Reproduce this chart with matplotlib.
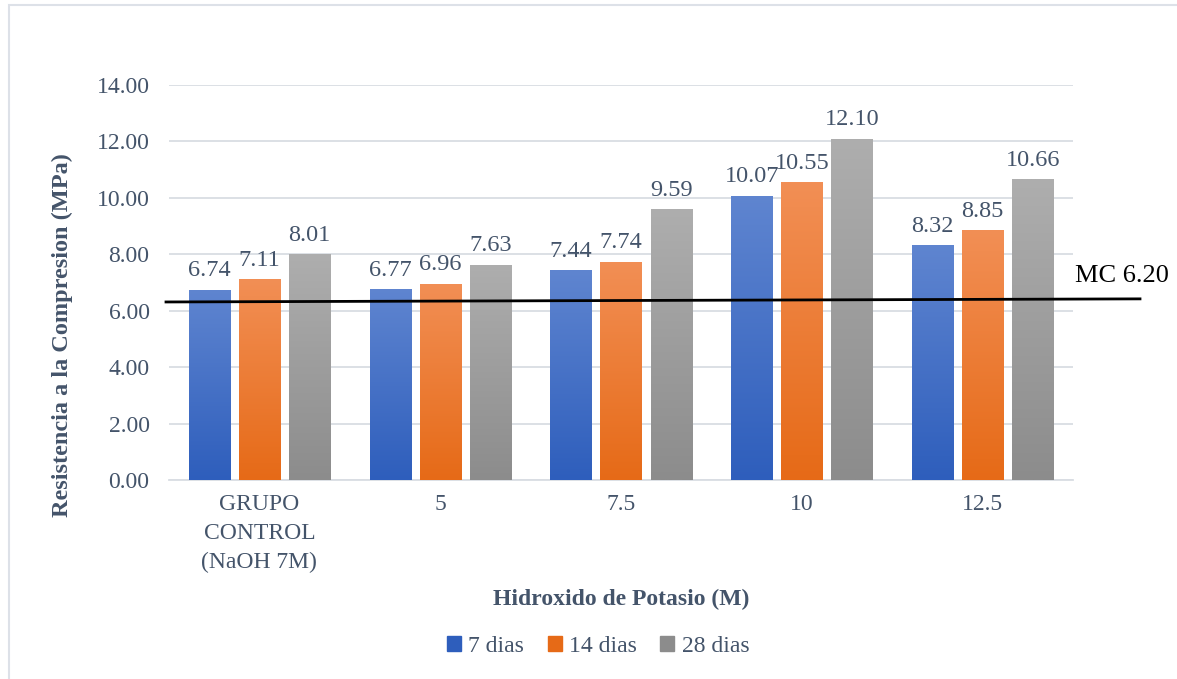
import numpy as np
import matplotlib
matplotlib.use("Agg")
import matplotlib.pyplot as plt
from matplotlib.colors import LinearSegmentedColormap
from matplotlib.lines import Line2D
from matplotlib.patches import Rectangle

# ---- data ----
categories = ["GRUPO\nCONTROL\n(NaOH 7M)", "5", "7.5", "10", "12.5"]
series_names = ["7 dias", "14 dias", "28 dias"]
dias_7 = [6.74, 6.77, 7.44, 10.07, 8.32]
dias_14 = [7.11, 6.96, 7.74, 10.55, 8.85]
dias_28 = [8.01, 7.63, 9.59, 12.10, 10.66]
mc_value = 6.20
mc_line_y = [6.31, 6.42]   # reference line as drawn (left end, right end)
y_ticks = [0, 2, 4, 6, 8, 10, 12, 14]

series = [dias_7, dias_14, dias_28]
# gradient colours (top, bottom)
grads = [("#5F85D0", "#2E5EBC"), ("#F28F55", "#E66A17"), ("#AEAEAE", "#8C8C8C")]

plt.rcParams["font.family"] = ["Liberation Serif", "DejaVu Serif"]
text_col = "#44546A"
fs = 17

fig = plt.figure(figsize=(11.77, 6.79), dpi=100)
W, H = 1177, 679
ax = fig.add_axes([169 / W, 1 - 480 / H, (1073 - 169) / W, (480 - 85) / H])

x = np.arange(len(categories))
bw = 0.227
offs = [-0.277, 0.0, 0.277]

for si, vals in enumerate(series):
    top, bot = grads[si]
    cmap = LinearSegmentedColormap.from_list(f"g{si}", [bot, top])
    bars = ax.bar(x + offs[si], vals, width=bw, color=top, zorder=2, linewidth=0)
    for b, v in zip(bars, vals):
        x0 = b.get_x()
        grad = np.linspace(0, 1, 256).reshape(-1, 1)
        im = ax.imshow(grad, cmap=cmap, origin="lower", aspect="auto",
                       extent=[x0, x0 + bw, 0, v], zorder=3,
                       interpolation="bilinear")
        im.set_clip_path(b)
        ax.text(x0 + bw / 2, v + 0.3, f"{v:.2f}", ha="center", va="bottom",
                fontsize=fs + 0.5, color=text_col, zorder=5)

ax.set_xlim(-0.5, len(categories) - 0.5)
ax.set_ylim(0, 14)
ax.set_yticks(y_ticks)
ax.set_yticklabels([f"{t:.2f}" for t in y_ticks], fontsize=fs, color=text_col)
ax.set_xticks(x)
ax.set_xticklabels(categories, fontsize=fs, color=text_col, linespacing=1.5)
ax.tick_params(axis="both", length=0)
ax.tick_params(axis="y", pad=14)
ax.tick_params(axis="x", pad=10)
ax.grid(axis="y", color="#D9DDE3", linewidth=1.3, zorder=0)
ax.set_axisbelow(True)
for s in ["top", "right", "left"]:
    ax.spines[s].set_visible(False)
ax.spines["bottom"].set_color("#D9DDE3")
ax.spines["bottom"].set_linewidth(1.3)

ax.set_ylabel("Resistencia a la Compresion (MPa)", fontsize=fs + 0.5,
              fontweight="bold", color=text_col)
ax.yaxis.set_label_coords((73 - 169) / 904, (480 - 335) / 395)
ax.set_xlabel("Hidroxido de Potasio (M)", fontsize=fs, fontweight="bold",
              color=text_col)
ax.xaxis.set_label_coords(0.5, -(589 - 480) / 395)

# minimum compressive strength reference line
x_left = -0.5 - 3 / 180.8
x_right = 4.5 + 67 / 180.8
ax.add_line(Line2D([x_left, x_right], mc_line_y, color="black", linewidth=2,
                   zorder=6, clip_on=False))
ax.text(4.5 + 2 / 180.8, 6.85, f"MC {mc_value:.2f}", fontsize=19,
        color="black", ha="left", va="bottom", clip_on=False)

# legend
handles = [Rectangle((0, 0), 1, 1, color=grads[i][1]) for i in range(3)]
fig.legend(handles, series_names, loc="center", bbox_to_anchor=(598 / W, 1 - 646 / H),
           ncol=3, frameon=False, fontsize=fs, handlelength=0.6, handleheight=0.6,
           handletextpad=0.3, columnspacing=1.0, labelcolor=text_col)

# chart frame
fig.add_artist(Rectangle((8.5 / W, -0.01), 1.1, 1 - 5 / H + 0.01,
                         transform=fig.transFigure, fill=False,
                         edgecolor="#DDE1E8", linewidth=1.5))

fig.savefig("out.png", dpi=100, facecolor="white")
